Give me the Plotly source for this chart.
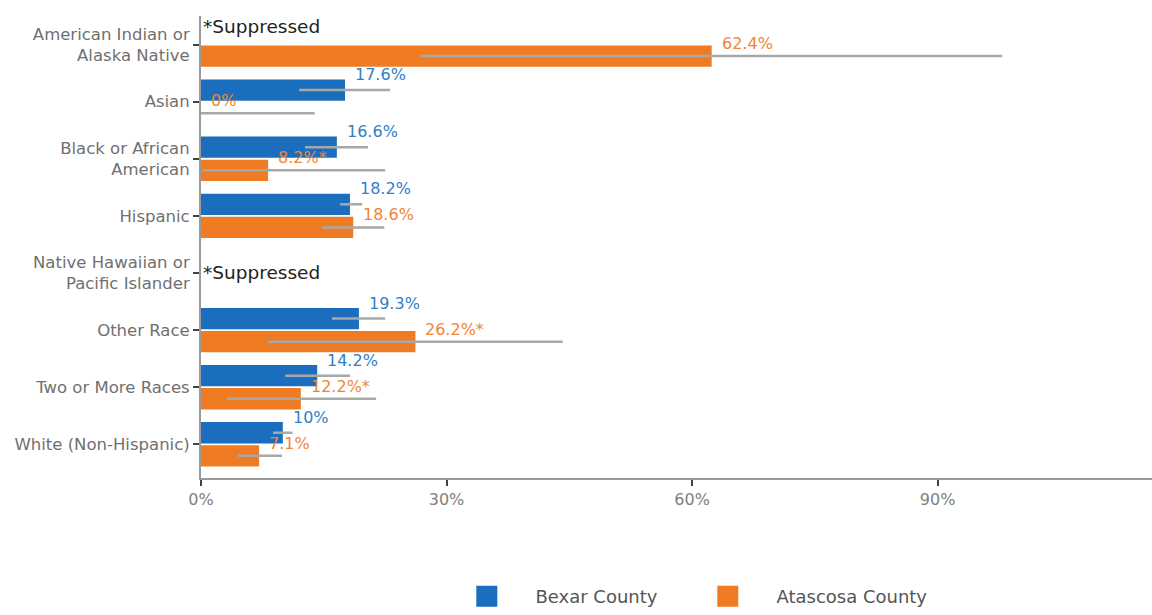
import plotly.graph_objects as go

categories = ["American Indian or<br>Alaska Native", "Asian", "Black or African<br>American", "Hispanic",
              "Native Hawaiian or<br>Pacific Islander", "Other Race", "Two or More Races", "White (Non-Hispanic)"]
bexar = [None, 17.6, 16.6, 18.2, None, 19.3, 14.2, 10.0]
bexar_low = [None, 12.0, 12.7, 17.0, None, 16.0, 10.3, 8.8]
bexar_high = [None, 23.1, 20.4, 19.7, None, 22.5, 18.2, 11.2]
bexar_labels = ["", "17.6%", "16.6%", "18.2%", "", "19.3%", "14.2%", "10%"]
atascosa = [62.4, 0.0, 8.2, 18.6, None, 26.2, 12.2, 7.1]
atascosa_low = [26.8, 0.0, 0.2, 14.8, None, 8.2, 3.2, 4.5]
atascosa_high = [97.9, 13.9, 22.5, 22.4, None, 44.2, 21.4, 9.9]
atascosa_labels = ["62.4%", "0%", "8.2%*", "18.6%", "", "26.2%*", "12.2%*", "7.1%"]
suppressed = ["*Suppressed", "", "", "", "*Suppressed", "", "", ""]
series_names = ["Bexar County", "Atascosa County"]
x_ticks = [0, 30, 60, 90]
x_tick_labels = ["0%", "30%", "60%", "90%"]

BLUE = "#1b6ebe"
ORANGE = "#ef7b22"
BLUE_TXT = "#2f80c6"
ORANGE_TXT = "#f08535"
GREY_ERR = "#a8a8a8"
FONT = "DejaVu Sans"


def err(vals, lo, hi):
    plus = [None if v is None else h - v for v, h in zip(vals, hi)]
    minus = [None if v is None else v - l for v, l in zip(vals, lo)]
    return plus, minus


fig = go.Figure()
for name, vals, lo, hi, col in [(series_names[0], bexar, bexar_low, bexar_high, BLUE),
                                (series_names[1], atascosa, atascosa_low, atascosa_high, ORANGE)]:
    p, m = err(vals, lo, hi)
    fig.add_trace(go.Bar(
        y=categories, x=vals, orientation="h", name=name, marker_color=col,
        marker_line_width=0, showlegend=False,
        error_x=dict(type="data", symmetric=False, array=p, arrayminus=m,
                     color=GREY_ERR, thickness=2.5, width=0),
    ))

# legend proxies with large square symbols
for name, col in [(series_names[0], BLUE), (series_names[1], ORANGE)]:
    fig.add_trace(go.Scatter(x=[None], y=[None], mode="markers", name="     " + name,
                             marker=dict(symbol="square", size=16, color=col,
                                         line=dict(color=col, width=5))))

# value labels
for cat, v, lab in zip(categories, bexar, bexar_labels):
    if v is not None and lab:
        fig.add_annotation(x=v, y=cat, text=lab, showarrow=False, xanchor="left",
                           xshift=8, yshift=27, font=dict(color=BLUE_TXT, size=16, family=FONT))
for cat, v, lab in zip(categories, atascosa, atascosa_labels):
    if v is not None and lab:
        fig.add_annotation(x=v, y=cat, text=lab, showarrow=False, xanchor="left",
                           xshift=8, yshift=1, font=dict(color=ORANGE_TXT, size=16, family=FONT))
for i, (cat, s) in enumerate(zip(categories, suppressed)):
    if s:
        fig.add_annotation(x=0, y=cat, text=s, showarrow=False, xanchor="left",
                           xshift=0, yshift=18 if i == 0 else 0,
                           font=dict(color="#222222", size=18.5, family=FONT))

fig.update_layout(
    width=1152, height=615,
    margin=dict(l=201, r=0, t=16, b=132),
    paper_bgcolor="white", plot_bgcolor="white",
    barmode="group", bargap=0.19, bargroupgap=0.08,
    font=dict(family=FONT, color="#666666", size=16),
    xaxis=dict(range=[0, 116.2], tickvals=x_ticks, ticktext=x_tick_labels,
               showgrid=False, zeroline=False, showline=True, linecolor="#9a9a9a", linewidth=2,
               ticks="outside", ticklen=6, tickcolor="#444444", tickwidth=1.5,
               tickfont=dict(size=16, color="#808080")),
    yaxis=dict(range=[7.59, -0.5], showgrid=False, zeroline=False, showline=True,
               linecolor="#9a9a9a", linewidth=2, ticks="outside", ticklen=6,
               tickcolor="#444444", tickwidth=1.5, tickfont=dict(size=16.5, color="#707070")),
    legend=dict(orientation="h", x=0.2795, xanchor="left", y=-0.257, yanchor="middle",
                itemsizing="trace", entrywidth=196, entrywidthmode="pixels",
                font=dict(size=18, color="#555555", family=FONT)),
)

fig.write_html("out.html", config={"displayModeBar": False},
               post_script="document.body.style.margin='0';document.body.style.overflow='hidden';")
